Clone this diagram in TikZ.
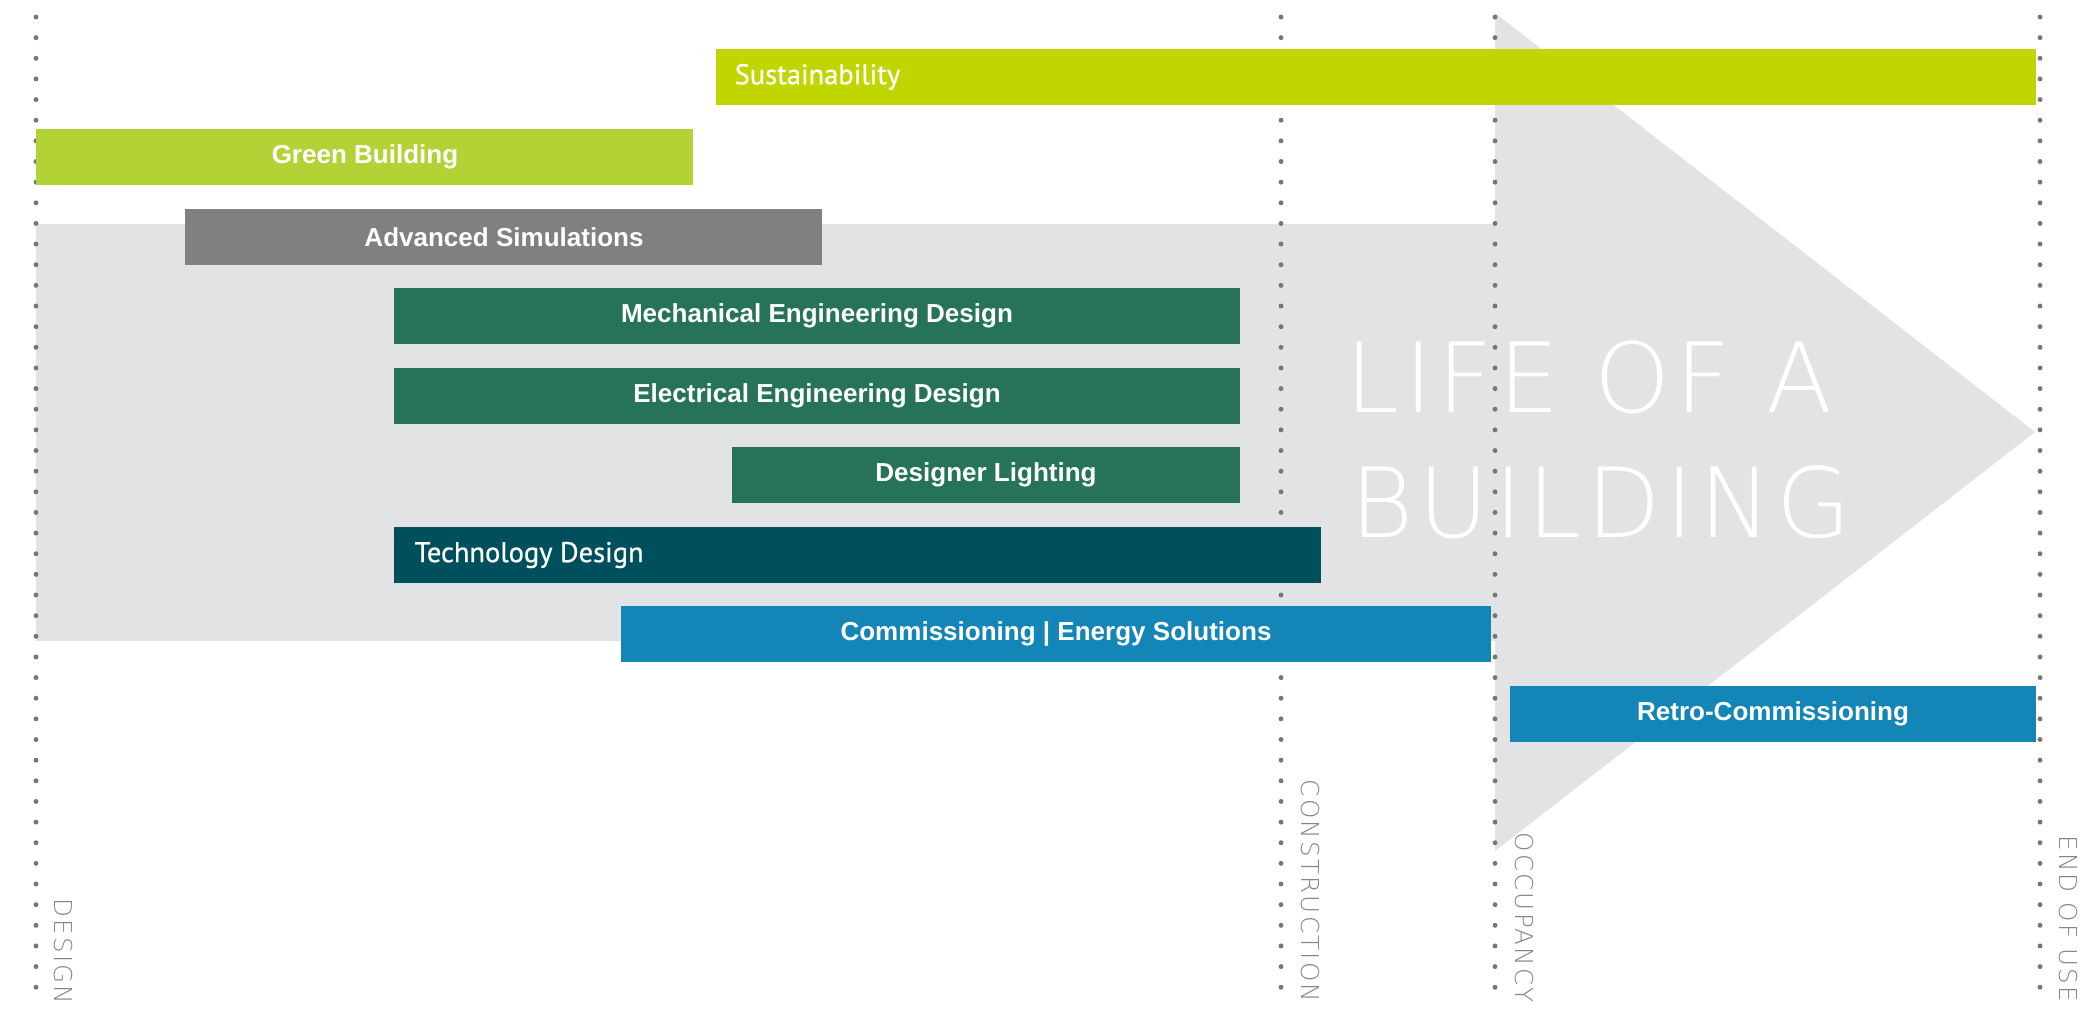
\documentclass[tikz,border=0pt]{standalone}
\usepackage{fontspec}
\usepackage{xcolor}
\usepackage{tikz}
\setmainfont{Liberation Sans}
\newfontfamily\barfont{PT Sans}[FakeBold=0.7]
\IfFontExistsTF{DejaVu Sans ExtraLight}{%
  \newfontfamily\bigfont{DejaVu Sans ExtraLight}[LetterSpace=5]
  \newfontfamily\stagefont{DejaVu Sans ExtraLight}[LetterSpace=9]}{%
  \newfontfamily\bigfont{DejaVu Sans}[LetterSpace=5]
  \newfontfamily\stagefont{DejaVu Sans}[LetterSpace=9]}
\definecolor{bg}{HTML}{FFFFFF}
\definecolor{arrowc}{HTML}{E2E3E5}
\definecolor{dotc}{HTML}{767676}
\definecolor{stagec}{HTML}{858585}
\definecolor{limea}{HTML}{C1D600}
\definecolor{limeb}{HTML}{B3D235}
\definecolor{simc}{HTML}{808083}
\definecolor{engc}{HTML}{27735A}
\definecolor{techc}{HTML}{004F5D}
\definecolor{cxc}{HTML}{1385B6}
\tikzset{
  phase/.style={draw=dotc, line width=1.4pt, line cap=round, dash pattern=on 0pt off 5.87pt},
  lblb/.style={text=white, font=\fontsize{7.4}{9}\selectfont\bfseries, inner sep=0pt},
  lbll/.style={text=white, font=\barfont\fontsize{8.1}{10}\selectfont, inner sep=0pt, anchor=west},
  stage/.style={text=stagec, font=\stagefont\fontsize{7}{8}\selectfont, rotate=-90, anchor=east, inner sep=0pt},
  big/.style={text=white, font=\bigfont\fontsize{27.5}{30}\selectfont, inner sep=0pt, anchor=base west},
}

\begin{document}
\begin{tikzpicture}[x=0.01cm,y=-0.01cm]
  \useasboundingbox (0,0) rectangle (2086,1032);
  \fill[bg] (0,0) rectangle (2086,1032);
  % life of a building arrow
  \fill[arrowc] (36,224) -- (1495,224) -- (1495,13) -- (2035,432) -- (1495,851) -- (1495,641) -- (36,641) -- cycle;
  \node[big] (life) at (1345,412) {LIFE OF A};
  \node[big] (bldg) at (1350,537) {BUILDING};
  % phases
  \foreach \px/\nm in {36/design,1281/constr,1495/occup,2040/eou}
    \draw[phase] (\px,17) coordinate (\nm-t) -- (\px,1005) coordinate (\nm-b);
  \node[stage] (sdesign) at (63,1005) {DESIGN};
  \node[stage] (sconstr) at (1310,1003) {CONSTRUCTION};
  \node[stage] (soccup) at (1524,1003) {OCCUPANCY};
  \node[stage] (seou) at (2068,1003) {END OF USE};
  % services
  \fill[limea] (716,49) rectangle (2036,105);
  \node[lbll] (sust) at (734,77) {Sustainability};
  \fill[limeb] (36,129) rectangle (693,185);
  \node[lblb] (green) at (365,157) {Green Building};
  \fill[simc] (185,209) rectangle (822,265);
  \node[lblb] (sim) at (504,237) {Advanced Simulations};
  \fill[engc] (394,288) rectangle (1240,344);
  \node[lblb] (mech) at (817,316) {Mechanical Engineering Design};
  \fill[engc] (394,368) rectangle (1240,424);
  \node[lblb] (elec) at (817,396) {Electrical Engineering Design};
  \fill[engc] (732,447) rectangle (1240,503);
  \node[lblb] (light) at (986,475) {Designer Lighting};
  \fill[techc] (394,527) rectangle (1321,583);
  \node[lbll] (tech) at (414,555) {Technology Design};
  \fill[cxc] (621,606) rectangle (1491,662);
  \node[lblb] (cx) at (1056,634) {Commissioning | Energy Solutions};
  \fill[cxc] (1510,686) rectangle (2036,742);
  \node[lblb] (retro) at (1773,714) {Retro-Commissioning};
\end{tikzpicture}
\end{document}
